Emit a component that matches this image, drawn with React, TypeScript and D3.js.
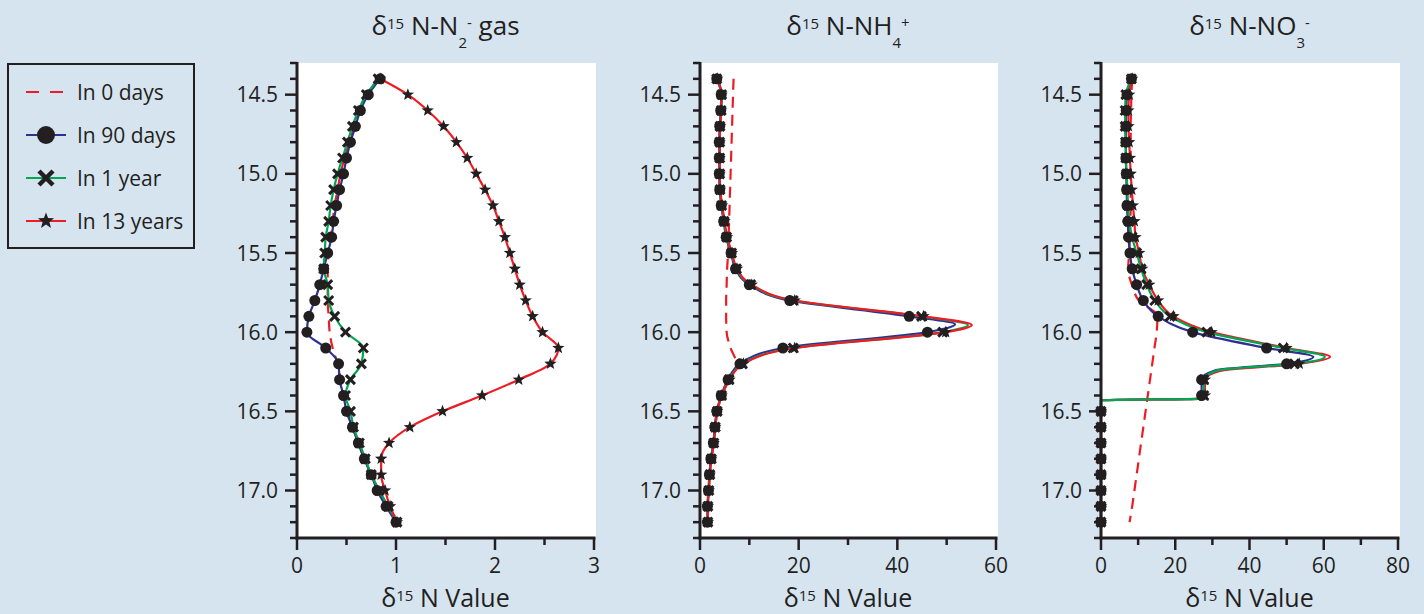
import React from 'react';
import * as d3 from 'd3';

// ---------- data ----------
const depths = [14.4, 14.5, 14.6, 14.7, 14.8, 14.9, 15.0, 15.1, 15.2, 15.3, 15.4, 15.5, 15.6, 15.7, 15.8, 15.9, 16.0, 16.1, 16.2, 16.3, 16.4, 16.5, 16.6, 16.7, 16.8, 16.9, 17.0, 17.1, 17.2];
const yMajorTicks = [14.5, 15.0, 15.5, 16.0, 16.5, 17.0];
const yMinorTicks = [14.3, 14.4, 14.6, 14.7, 14.8, 14.9, 15.1, 15.2, 15.3, 15.4, 15.6, 15.7, 15.8, 15.9, 16.1, 16.2, 16.3, 16.4, 16.6, 16.7, 16.8, 16.9, 17.1, 17.2, 17.3];
const legendLabels = ['In 0 days', 'In 90 days', 'In 1 year', 'In 13 years'];

// delta15N-N2 gas
const n2Day0 = [0.84, 0.70, 0.63, 0.58, 0.53, 0.48, 0.44, 0.41, 0.38, 0.36, 0.34, 0.32, 0.31, 0.31, 0.31, 0.32, 0.33, 0.36, 0.41, 0.44, 0.47, 0.51, 0.56, 0.62, 0.68, 0.75, 0.83, 0.92, 1.03];
const n2Day90 = [0.84, 0.72, 0.64, 0.59, 0.54, 0.50, 0.47, 0.43, 0.40, 0.37, 0.35, 0.31, 0.27, 0.23, 0.18, 0.12, 0.10, 0.29, 0.42, 0.43, 0.47, 0.50, 0.56, 0.62, 0.68, 0.75, 0.81, 0.90, 1.00];
const n2Year1 = [0.82, 0.70, 0.62, 0.56, 0.51, 0.46, 0.41, 0.37, 0.34, 0.32, 0.29, 0.28, 0.27, 0.31, 0.32, 0.38, 0.49, 0.67, 0.65, 0.54, 0.49, 0.54, 0.57, 0.63, 0.69, 0.75, 0.83, 0.92, 1.01];
const n2Year13 = [0.84, 1.12, 1.32, 1.48, 1.61, 1.72, 1.81, 1.90, 1.98, 2.04, 2.10, 2.15, 2.20, 2.25, 2.31, 2.38, 2.48, 2.64, 2.56, 2.24, 1.87, 1.47, 1.14, 0.93, 0.85, 0.85, 0.89, 0.94, 1.01];

// delta15N-NH4+
const nh4Day0 = [6.8, 6.7, 6.6, 6.5, 6.4, 6.3, 6.2, 6.1, 6.0, 5.9, 5.8, 5.7, 5.5, 5.4, 5.3, 5.3, 5.4, 6.2, 7.4, 5.9, 4.4, 3.5, 3.1, 2.8, 2.3, 2.0, 1.8, 1.6, 1.6];
const nh4Day90 = [3.4, 4.3, 4.2, 4.0, 3.9, 3.9, 3.9, 4.0, 4.3, 4.8, 5.3, 6.3, 7.2, 10.0, 18.2, 42.4, 46.1, 16.8, 8.1, 5.7, 4.3, 3.4, 3.0, 2.7, 2.2, 1.9, 1.7, 1.5, 1.5];
const nh4Year1 = [3.4, 4.4, 4.3, 4.05, 4.0, 4.0, 4.0, 4.05, 4.4, 4.9, 5.4, 6.4, 7.4, 10.3, 18.9, 44.9, 49.2, 18.9, 8.6, 5.9, 4.4, 3.5, 3.1, 2.8, 2.3, 2.0, 1.8, 1.6, 1.6];
const nh4Year13 = [3.5, 4.4, 4.3, 4.1, 4.0, 4.0, 4.0, 4.1, 4.5, 5.0, 5.5, 6.5, 7.5, 10.5, 19.2, 45.3, 49.8, 19.2, 8.8, 6.0, 4.4, 3.5, 3.1, 2.8, 2.3, 2.0, 1.8, 1.6, 1.6];
// extra points read on the drawn lines (between markers)
const nh4Day90Line = [[15.95, 51.7]];
const nh4Year1Line = [[15.955, 54.3]];
const nh4Year13Line = [[15.955, 55.1]];

// delta15N-NO3-
const no3Day0 = [8.4, 8.2, 8.1, 8.0, 8.0, 8.0, 8.0, 8.0, 8.0, 7.9, 7.8, 7.6, 7.3, 8.3, 10.2, 15.2, 15.0, 14.4, 13.8, 13.2, 12.6, 12.0, 11.4, 10.8, 10.2, 9.6, 9.0, 8.4, 7.7];
const no3Day90 = [8.2, 7.0, 6.8, 6.7, 6.7, 6.7, 6.8, 6.9, 7.0, 7.2, 7.4, 7.8, 8.4, 9.6, 11.4, 15.4, 24.7, 44.6, 50.0, 27.1, 27.1, 0, 0, 0, 0, 0, 0, 0, 0];
const no3Year1 = [8.2, 6.7, 6.5, 6.5, 6.6, 6.7, 6.9, 7.1, 7.3, 7.6, 8.4, 9.6, 10.8, 12.3, 14.5, 18.6, 28.5, 49.1, 52.1, 27.7, 27.7, 0, 0, 0, 0, 0, 0, 0, 0];
const no3Year13 = [8.4, 7.6, 7.4, 7.4, 7.6, 7.8, 8.0, 8.3, 8.6, 9.0, 9.3, 10.3, 11.1, 13.0, 15.4, 19.5, 29.8, 50.0, 53.4, 28.0, 28.0, 0, 0, 0, 0, 0, 0, 0, 0];
const no3Day90Line = [[16.156, 57.2], [16.24, 31.0], [16.42, 27.1], [16.43, 0]];
const no3Year1Line = [[16.156, 60.3], [16.24, 31.5], [16.42, 27.7], [16.43, 0]];
const no3Year13Line = [[16.156, 61.7], [16.245, 32.0], [16.42, 28.0], [16.43, 0]];

// ---------- styling ----------
const BG = '#d6e4f0';
const INK = '#231f20';
const RED = '#ed1c24';
const BLUE = '#2e3192';
const GREEN = '#00a651';
const FONT = '"Open Sans", "Noto Sans", sans-serif';

const Y_TOP = 63;
const Y_BOT = 538;
const yScale = d3.scaleLinear().domain([14.3, 17.3]).range([Y_TOP, Y_BOT]);

type Pt = { d: number; v: number };

function buildLine(vals: number[], extra: number[][] = []): Pt[] {
  const pts: Pt[] = depths.map((d, i) => ({ d, v: vals[i] }));
  extra.forEach(([d, v]) => pts.push({ d, v }));
  pts.sort((a, b) => a.d - b.d);
  return pts;
}

function starPath(r: number): string {
  const pts: string[] = [];
  for (let i = 0; i < 10; i++) {
    const a = -Math.PI / 2 + (i * Math.PI) / 5;
    const rr = i % 2 === 0 ? r : r * 0.42;
    pts.push(`${(Math.cos(a) * rr).toFixed(2)},${(Math.sin(a) * rr).toFixed(2)}`);
  }
  return 'M' + pts.join('L') + 'Z';
}

const Circle = ({ x, y, r }: { x: number; y: number; r: number }) => <circle cx={x} cy={y} r={r} fill={INK} />;
const Cross = ({ x, y, s, w }: { x: number; y: number; s: number; w: number }) => (
  <g stroke={INK} strokeWidth={w}>
    <line x1={x - s} y1={y - s} x2={x + s} y2={y + s} />
    <line x1={x - s} y1={y + s} x2={x + s} y2={y - s} />
  </g>
);
const Star = ({ x, y, r }: { x: number; y: number; r: number }) => (
  <path d={starPath(r)} transform={`translate(${x},${y})`} fill={INK} />
);

type SeriesDef = { vals: number[]; extra?: number[][] };
type PanelDef = {
  x0: number; x1: number; domain: [number, number];
  major: number[]; minor: number[];
  chem: string; sub: string; sup: string; tail: string;
  day0: number[]; day90: SeriesDef; year1: SeriesDef; year13: SeriesDef;
  greenOnTop: boolean;
};

const panels: PanelDef[] = [
  {
    x0: 297, x1: 594, domain: [0, 3], major: [0, 1, 2, 3], minor: [0.5, 1.5, 2.5],
    chem: 'N-N', sub: '2', sup: '-', tail: ' gas',
    day0: n2Day0, day90: { vals: n2Day90 }, year1: { vals: n2Year1 }, year13: { vals: n2Year13 },
    greenOnTop: false,
  },
  {
    x0: 700, x1: 996, domain: [0, 60], major: [0, 20, 40, 60], minor: [10, 30, 50],
    chem: 'N-NH', sub: '4', sup: '+', tail: '',
    day0: nh4Day0, day90: { vals: nh4Day90, extra: nh4Day90Line }, year1: { vals: nh4Year1, extra: nh4Year1Line }, year13: { vals: nh4Year13, extra: nh4Year13Line },
    greenOnTop: false,
  },
  {
    x0: 1101, x1: 1398, domain: [0, 80], major: [0, 20, 40, 60, 80], minor: [10, 30, 50, 70],
    chem: 'N-NO', sub: '3', sup: '-', tail: '',
    day0: no3Day0, day90: { vals: no3Day90, extra: no3Day90Line }, year1: { vals: no3Year1, extra: no3Year1Line }, year13: { vals: no3Year13, extra: no3Year13Line },
    greenOnTop: true,
  },
];

function Panel({ p }: { p: PanelDef }) {
  const x = d3.scaleLinear().domain(p.domain).range([p.x0, p.x1]);
  const line = d3.line<Pt>().x((d) => x(d.v)).y((d) => yScale(d.d)).curve(d3.curveMonotoneY);
  const cx = (p.x0 + p.x1) / 2;
  const l0 = line(buildLine(p.day0)) || '';
  const l90 = line(buildLine(p.day90.vals, p.day90.extra)) || '';
  const l1 = line(buildLine(p.year1.vals, p.year1.extra)) || '';
  const l13 = line(buildLine(p.year13.vals, p.year13.extra)) || '';
  const blueEl = <path d={l90} fill="none" stroke={BLUE} strokeWidth={2.2} />;
  const greenEl = <path d={l1} fill="none" stroke={GREEN} strokeWidth={2.2} />;
  const redEl = <path d={l13} fill="none" stroke={RED} strokeWidth={2.2} />;
  return (
    <g>
      <rect x={p.x0} y={Y_TOP} width={p.x1 - p.x0 + 2} height={Y_BOT - Y_TOP} fill="#ffffff" />
      {/* title */}
      <text x={cx} y={35} textAnchor="middle" fontFamily={FONT} fontSize={26} fill={INK}>
        <tspan>δ</tspan>
        <tspan fontSize={15} dy={-6}>15</tspan>
        <tspan fontSize={26} dy={6}>{' ' + p.chem}</tspan>
        <tspan fontSize={15} dy={13}>{p.sub}</tspan>
        <tspan fontSize={15} dy={-20}>{p.sup}</tspan>
        <tspan fontSize={26} dy={7}>{p.tail}</tspan>
      </text>
      {/* lines */}
      <path d={l0} fill="none" stroke={RED} strokeWidth={2.2} strokeDasharray="11,7" />
      {blueEl}
      {p.greenOnTop ? redEl : greenEl}
      {p.greenOnTop ? greenEl : redEl}
      {/* y axis */}
      <line x1={p.x0} x2={p.x0} y1={Y_TOP - 1} y2={Y_BOT + 1.5} stroke={INK} strokeWidth={3} />
      {yMinorTicks.map((t) => (
        <line key={'ym' + t} x1={p.x0 - 7} x2={p.x0} y1={yScale(t)} y2={yScale(t)} stroke={INK} strokeWidth={2.5} />
      ))}
      {yMajorTicks.map((t) => (
        <g key={'yM' + t}>
          <line x1={p.x0 - 12} x2={p.x0} y1={yScale(t)} y2={yScale(t)} stroke={INK} strokeWidth={2.5} />
          <text x={p.x0 - 19} y={yScale(t) + 7.5} textAnchor="end" fontFamily={FONT} fontSize={21} fill={INK}>
            {d3.format('.1f')(t)}
          </text>
        </g>
      ))}
      {/* x axis */}
      <line x1={p.x0 - 1.5} x2={x(p.domain[1]) + 1.5} y1={Y_BOT} y2={Y_BOT} stroke={INK} strokeWidth={3} />
      {p.minor.map((t) => (
        <line key={'xm' + t} x1={x(t)} x2={x(t)} y1={Y_BOT} y2={Y_BOT + 7} stroke={INK} strokeWidth={2.5} />
      ))}
      {p.major.map((t) => (
        <g key={'xM' + t}>
          <line x1={x(t)} x2={x(t)} y1={Y_BOT} y2={Y_BOT + 12} stroke={INK} strokeWidth={2.5} />
          <text x={x(t)} y={573} textAnchor="middle" fontFamily={FONT} fontSize={21} fill={INK}>
            {String(t)}
          </text>
        </g>
      ))}
      <text x={cx} y={607} textAnchor="middle" fontFamily={FONT} fontSize={25} fill={INK}>
        <tspan>δ</tspan>
        <tspan fontSize={15} dy={-6}>15</tspan>
        <tspan fontSize={25} dy={6}> N Value</tspan>
      </text>
      {/* markers */}
      {depths.map((d, i) => (
        <Circle key={'c' + i} x={x(p.day90.vals[i])} y={yScale(d)} r={5.5} />
      ))}
      {depths.map((d, i) => (
        <Star key={'s' + i} x={x(p.year13.vals[i])} y={yScale(d)} r={6.5} />
      ))}
      {depths.map((d, i) => (
        <Cross key={'x' + i} x={x(p.year1.vals[i])} y={yScale(d)} s={4.5} w={3} />
      ))}
    </g>
  );
}

function Legend() {
  const rows = legendLabels.map((lab, i) => ({ lab, y: 92 + i * 43 }));
  return (
    <g>
      <rect x={8} y={64} width={186} height={184} fill="none" stroke={INK} strokeWidth={2} />
      {rows.map((r, i) => (
        <g key={r.lab}>
          {i === 0 && <line x1={26} x2={65} y1={r.y} y2={r.y} stroke={RED} strokeWidth={2} strokeDasharray="13,11" />}
          {i === 1 && <line x1={26} x2={66} y1={r.y} y2={r.y} stroke={BLUE} strokeWidth={2} />}
          {i === 2 && <line x1={26} x2={66} y1={r.y} y2={r.y} stroke={GREEN} strokeWidth={2} />}
          {i === 3 && <line x1={26} x2={66} y1={r.y} y2={r.y} stroke={RED} strokeWidth={2} />}
          {i === 1 && <Circle x={46} y={r.y} r={9} />}
          {i === 2 && <Cross x={46} y={r.y} s={7} w={4.5} />}
          {i === 3 && <Star x={46} y={r.y} r={8.5} />}
          <text x={77} y={r.y + 7.5} fontFamily={FONT} fontSize={21} fill={INK}>{r.lab}</text>
        </g>
      ))}
    </g>
  );
}

export default function App() {
  return (
    <svg width={1424} height={614} style={{ position: 'absolute', left: 0, top: 0, display: 'block' }}>
      <rect x={0} y={0} width={1424} height={614} fill={BG} />
      <Legend />
      {panels.map((p, i) => (
        <Panel key={i} p={p} />
      ))}
    </svg>
  );
}
